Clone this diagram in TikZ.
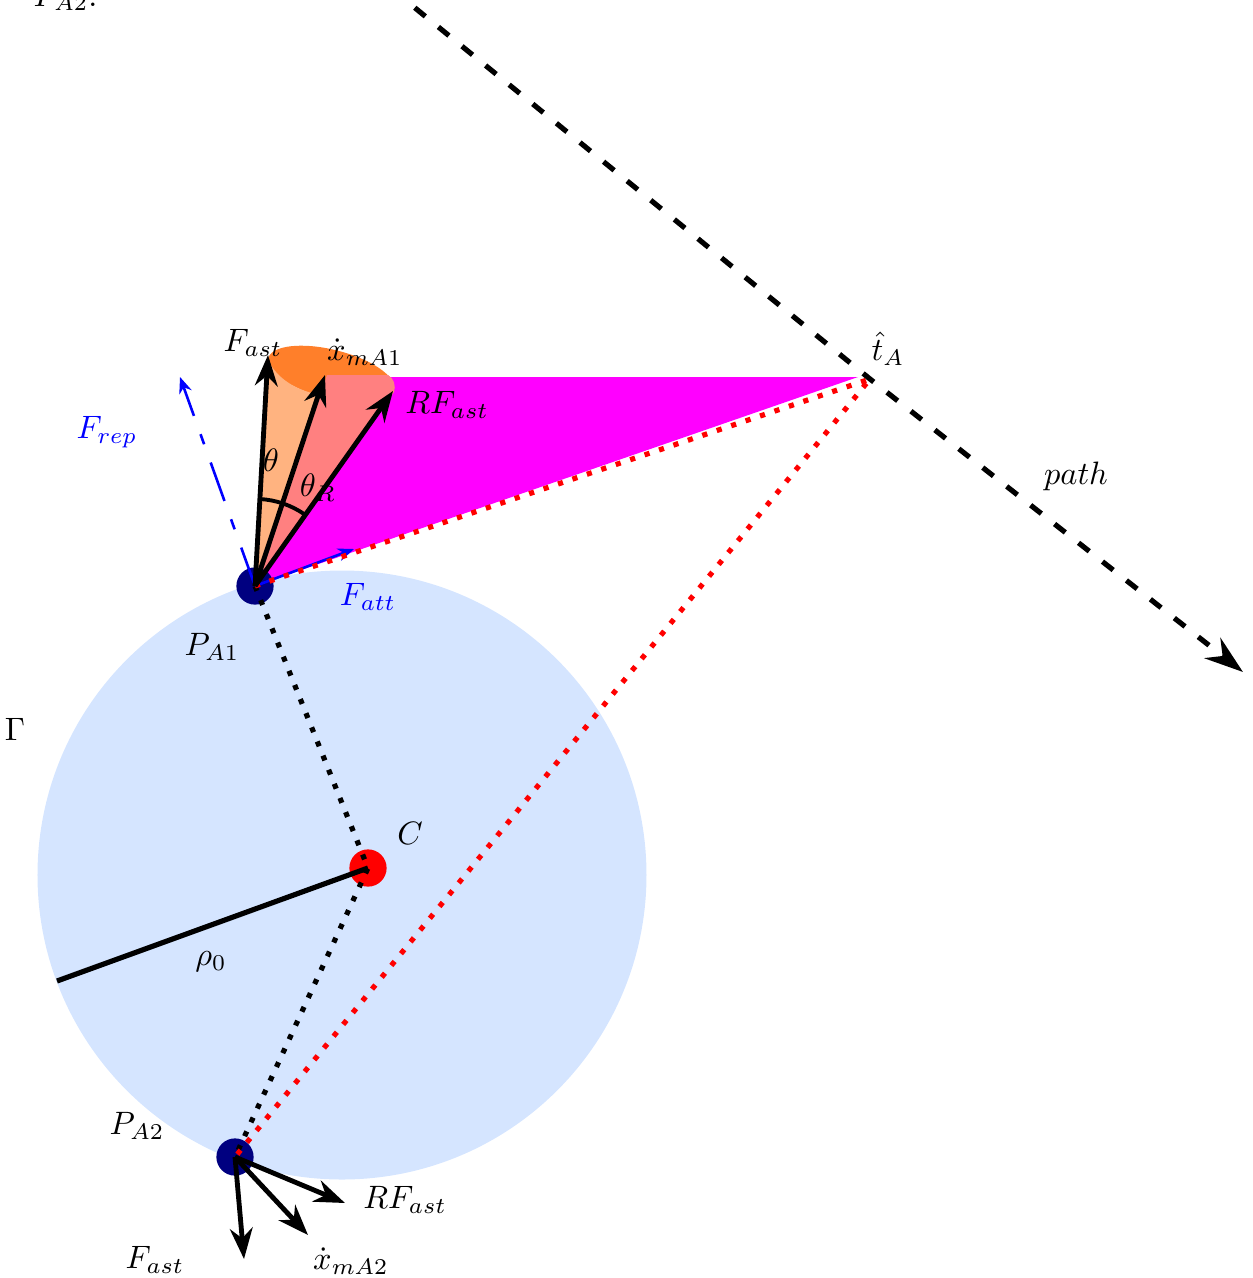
\documentclass[tikz,border=0pt]{standalone}
\usepackage{tikz}
\usepackage{xcolor}
\usetikzlibrary{arrows.meta,calc}
\definecolor{navyblue}{HTML}{000080}
\definecolor{discblue}{HTML}{D5E5FF}
\definecolor{conetop}{HTML}{FF7F2A}
\definecolor{coneleft}{HTML}{FFB380}
\definecolor{coneright}{HTML}{FF8080}
\definecolor{feasible}{HTML}{FF00FF}
\tikzset{
  robotdot/.style={
    circle, fill=#1, minimum size=11.5pt, inner sep=0pt
  },
  robotdot/.default=navyblue,
  forcearrow/.style={
    -{Stealth[length=9.5pt, width=7pt]}, line width=1.5pt, color=black
  },
  fieldarrow/.style={
    -{Stealth[length=5pt, width=4pt]}, line width=0.8pt, color=blue
  },
  linkline/.style={
    line width=1.6pt, dash pattern=on 1.6pt off 3.1pt, color=#1
  },
  linkline/.default=black,
  pathline/.style={
    line width=1.6pt, dash pattern=on 4.2pt off 5.2pt,
    -{Stealth[length=12pt, width=8pt, inset=4pt]}
  },
  lbl/.style={inner sep=0pt}
}

\begin{document}
\begin{tikzpicture}[x=0.3087pt, y=-0.3087pt]
\useasboundingbox (0,0) rectangle (1253,1278);
\clip (0,0) rectangle (1253,1278);

% disc
\fill[discblue] (342,875) circle[radius=94pt];

% points
\coordinate (tA) at (870,379);
\coordinate (ahead) at (327,375);

% feasible region
\fill[feasible] (255,586) -- (858,377) -- (388,377) -- cycle;

% cone
\fill[conetop, rotate around={-14:(331,374)}] (331,374) ellipse[x radius=20pt, y radius=7.5pt];
\fill[coneleft] (255,586) -- (267,358) .. controls (276,378) and (295,390) .. (320,395) -- cycle;
\fill[coneright] (255,586) -- (ahead) -- (388,375) .. controls (394,378) and (396,386) .. (394,392) -- cycle;

\node[robotdot] (pa1) at (255,586) {};
\node[robotdot] (pa2) at (235,1157) {};
\node[robotdot=red] (c) at (368,868) {};

% links
\draw[linkline] (pa1.center) -- (c.center) -- (pa2.center);
\draw[line width=1.6pt] (c.center) -- (57,981) coordinate (rho);

% forces on A1
\draw[fieldarrow, dash pattern=on 12.6pt off 6pt on 3.3pt off 6pt] (pa1.center) -- (180,377) coordinate (frep);
\draw[fieldarrow] (pa1.center) -- (354,549) coordinate (fatt);
\draw[linkline=red] (pa1.center) -- (tA) -- (pa2.center);

\draw[forcearrow] (pa1.center) -- (268,355) coordinate (fa1);
\draw[forcearrow] (pa1.center) -- (325,375) coordinate (xa1);
\draw[forcearrow] (pa1.center) -- (393,391) coordinate (rfa1);
\draw[line width=1.2pt] ($(pa1.center)+(86.8:26.9pt)$) arc[start angle=86.8, end angle=55.7, radius=26.9pt];

% forces on A2
\draw[forcearrow] (pa2.center) -- (244,1259) coordinate (fa2);
\draw[forcearrow] (pa2.center) -- (308,1235) coordinate (xa2);
\draw[forcearrow] (pa2.center) -- (345,1203) coordinate (rfa2);

% path
\draw[pathline] (344,-50) -- (tA) -- (1243,672);

% labels
\node[lbl] (lfa1) at (253,343) {$F_{ast}$};
\node[lbl] (lxa1) at (365,352) {$\dot{x}_{mA1}$};
\node[lbl] (lrfa1) at (447,405) {$RF_{ast}$};
\node[lbl] (ltheta) at (271,460) {$\theta$};
\node[lbl] (lthetar) at (318,488) {$\theta_R$};
\node[lbl, text=blue] (lfrep) at (107,432) {$F_{rep}$};
\node[lbl, text=blue] (lfatt) at (368,597) {$F_{att}$};
\node[lbl] (lpa1) at (212,647) {$P_{A1}$};
\node[lbl] (ltA) at (888,349) {$\hat{t}_A$};
\node[lbl] (lpath) at (1076,476) {$path$};
\node[lbl] (lgamma) at (15,729) {$\Gamma$};
\node[lbl] (lc) at (410,833) {$C$};
\node[lbl] (lrho) at (211,962) {$\rho_0$};
\node[lbl] (lpa2) at (137,1126) {$P_{A2}$};
\node[lbl] (lfa2) at (155,1260) {$F_{ast}$};
\node[lbl] (lxa2) at (351,1261) {$\dot{x}_{mA2}$};
\node[lbl] (lrfa2) at (405,1200) {$RF_{ast}$};
\node[lbl, anchor=base west] (lhead) at (33,6) {$P_{A2}$.};
\end{tikzpicture}
\end{document}
